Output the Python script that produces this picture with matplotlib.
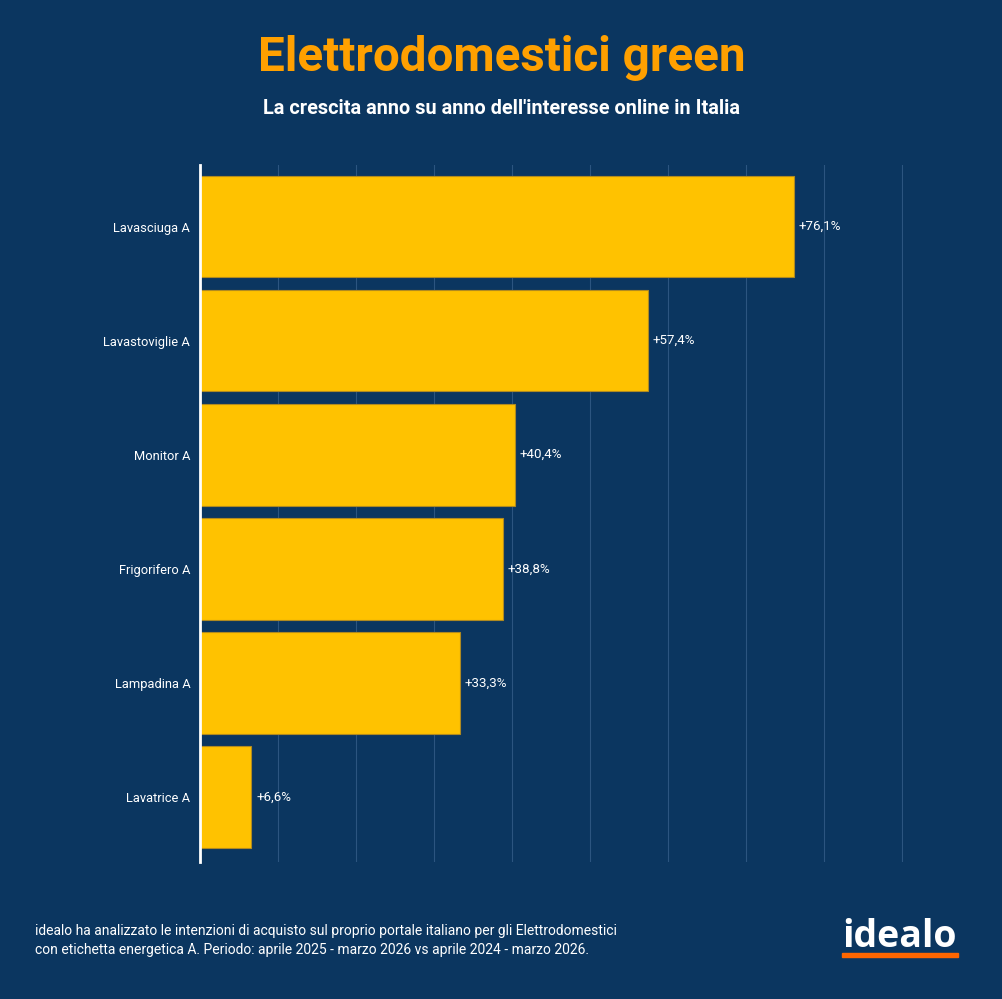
import matplotlib
matplotlib.use("Agg")
import matplotlib.pyplot as plt
from matplotlib.patches import Rectangle

plt.rcParams['font.family'] = ['Roboto', 'DejaVu Sans']

categories = ["Lavasciuga A", "Lavastoviglie A", "Monitor A", "Frigorifero A",
              "Lampadina A", "Lavatrice A"]
values = [76.1, 57.4, 40.4, 38.8, 33.3, 6.6]
labels = ["+76,1%", "+57,4%", "+40,4%", "+38,8%", "+33,3%", "+6,6%"]

bg = "#0b3660"
bar_color = "#ffc200"
W, H = 1003, 999

fig = plt.figure(figsize=(W / 100, H / 100), dpi=100, facecolor=bg)
ax = fig.add_axes([200 / W, 1 - 862 / H, 703 / W, 697 / H], facecolor=bg)

ypos = list(range(len(categories)))
ax.barh(ypos, values, height=0.89, color=bar_color, edgecolor="#b08a20",
        linewidth=0.8, zorder=3)
for y, v, t in zip(ypos, values, labels):
    ax.text(v + 0.6, y, t, va="center", ha="left", color="white", fontsize=9.6)

ax.set_xlim(0, 90.1)
ax.set_ylim(5.57, -0.54)
ax.set_xticks(range(10, 91, 10))
ax.set_xticklabels([])
ax.tick_params(axis="x", length=0)
ax.grid(axis="x", color="#2c5580", linewidth=0.8, zorder=0)
ax.set_yticks(ypos)
ax.set_yticklabels(categories, color="white", fontsize=9.3)
ax.tick_params(axis="y", length=0, pad=7)
for s in ["top", "right", "bottom"]:
    ax.spines[s].set_visible(False)
ax.spines["left"].set_color("white")
ax.spines["left"].set_linewidth(2)
ax.spines["left"].set_zorder(4)

fig.text(0.5, 1 - 58 / H, "Elettrodomestici green", ha="center", va="center",
         color="#ffa000", fontsize=34.3, fontweight="bold")
fig.text(0.5, 1 - 108 / H, "La crescita anno su anno dell'interesse online in Italia",
         ha="center", va="center", color="white", fontsize=14.3, fontweight="bold")

fig.text(35 / W, 1 - 931 / H,
         "idealo ha analizzato le intenzioni di acquisto sul proprio portale italiano per gli Elettrodomestici",
         ha="left", va="center", color="white", fontsize=10)
fig.text(35 / W, 1 - 950 / H,
         "con etichetta energetica A. Periodo: aprile 2025 - marzo 2026 vs aprile 2024 - marzo 2026.",
         ha="left", va="center", color="white", fontsize=10)

# logo
fig.text(900 / W, 1 - 937 / H, "idealo", ha="center", va="center", color="white",
         fontsize=27, fontweight="bold", family=["Open Sans", "DejaVu Sans"])
fig.patches.append(Rectangle((842 / W, 1 - 957 / H), 116 / W, 4 / H,
                             transform=fig.transFigure, color="#ff6600"))

fig.savefig("out.png", dpi=100, facecolor=bg)
